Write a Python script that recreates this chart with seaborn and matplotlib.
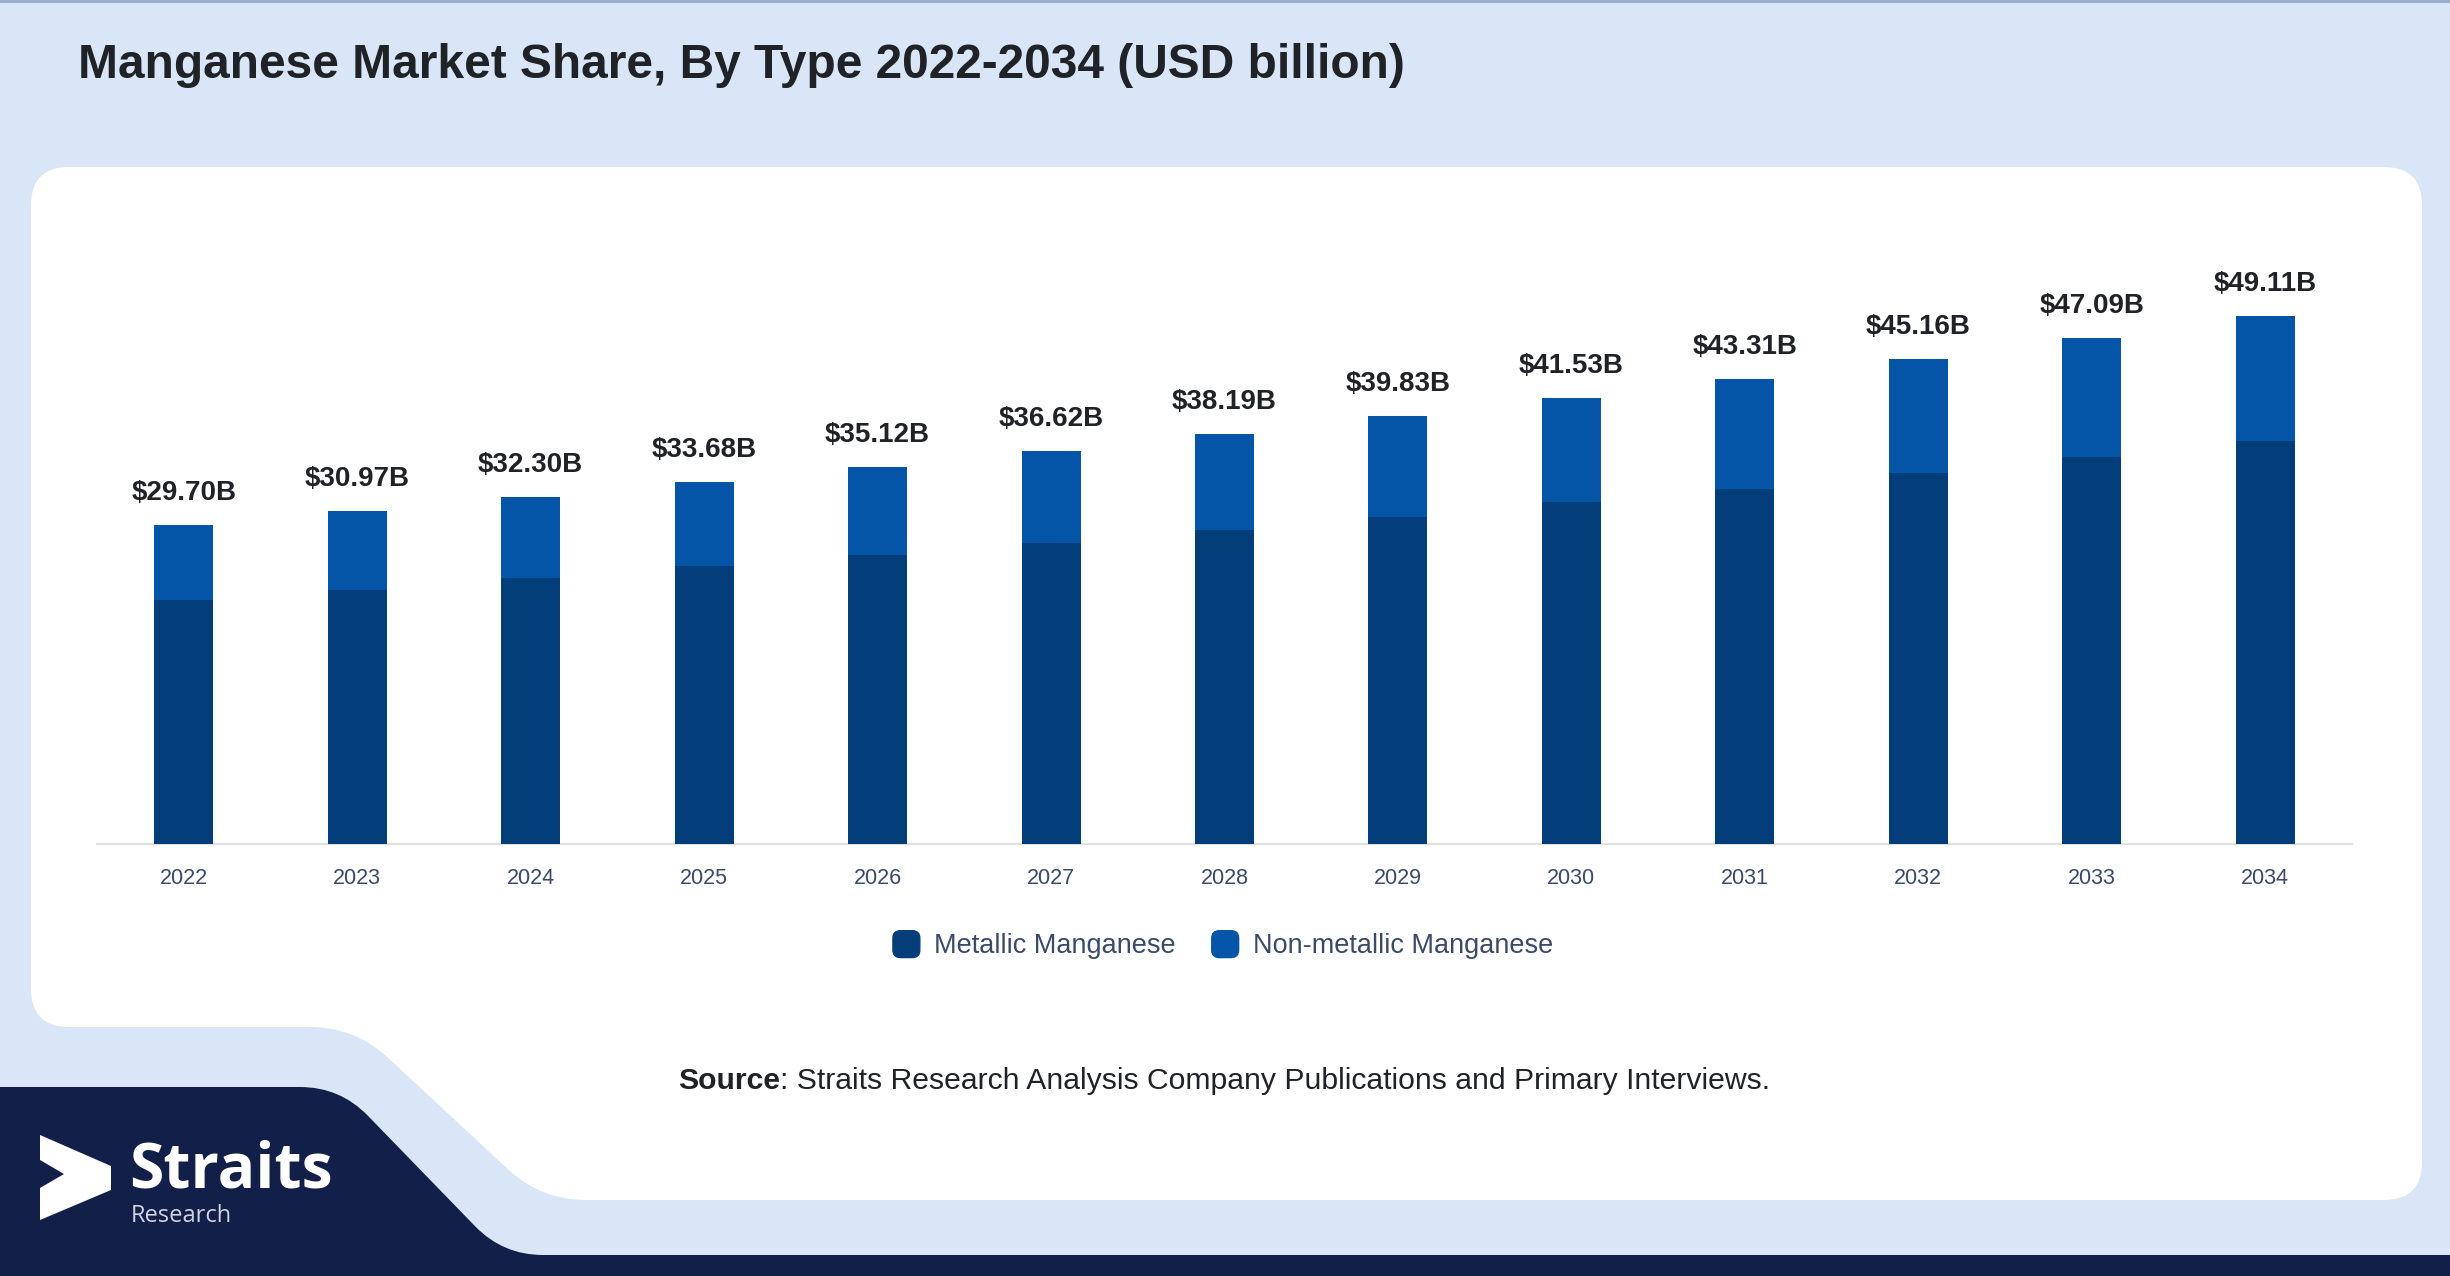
import numpy as np
import pandas as pd
import matplotlib
matplotlib.use("Agg")
import matplotlib.pyplot as plt
import seaborn as sns
from matplotlib.path import Path
from matplotlib.patches import PathPatch, FancyBboxPatch, Polygon
from matplotlib.legend_handler import HandlerPatch
import matplotlib.patches as mpatches

# ---------------- data ----------------
years = [str(y) for y in range(2022, 2035)]
metallic = [22.72, 23.68, 24.75, 25.83, 26.87, 28.01, 29.22, 30.47, 31.79, 33.02, 34.49, 35.98, 37.52]
non_metallic = [6.98, 7.29, 7.55, 7.85, 8.25, 8.61, 8.97, 9.36, 9.74, 10.29, 10.67, 11.11, 11.59]
total_labels = [29.70, 30.97, 32.30, 33.68, 35.12, 36.62, 38.19, 39.83, 41.53, 43.31, 45.16, 47.09, 49.11]
series_names = ["Metallic Manganese", "Non-metallic Manganese"]
title = "Manganese Market Share, By Type 2022-2034 (USD billion)"
source_bold = "Source"
source_rest = ": Straits Research Analysis Company Publications and Primary Interviews."

# ---------------- style ----------------
DARK = "#033D7A"
LIGHT = "#0455A8"
BG = "#D9E6F8"
NAVY = "#121F48"
TXT = "#1F2226"
TICK = "#3B4A6B"

sns.set_theme(style="white")
plt.rcParams['font.family'] = ['Liberation Sans', 'DejaVu Sans']

W, H = 2450, 1276
fig = plt.figure(figsize=(W / 100, H / 100), dpi=100)
fig.patch.set_facecolor(BG)

bg = fig.add_axes([0, 0, 1, 1])
bg.set_xlim(0, W)
bg.set_ylim(H, 0)
bg.axis('off')


def rounded_path(pts, radii):
    pts = np.asarray(pts, float)
    n = len(pts)
    verts, codes = [], []
    for i in range(n):
        p = pts[i]
        prev = pts[i - 1]
        nxt = pts[(i + 1) % n]
        r = radii[i]
        d1 = (prev - p) / np.linalg.norm(prev - p)
        d2 = (nxt - p) / np.linalg.norm(nxt - p)
        a = p + d1 * r
        b = p + d2 * r
        verts.append(a)
        codes.append(Path.MOVETO if i == 0 else Path.LINETO)
        verts += [p, b]
        codes += [Path.CURVE3, Path.CURVE3]
    verts.append(verts[0])
    codes.append(Path.CLOSEPOLY)
    return Path(verts, codes)


# top border line
bg.plot([0, W], [1, 1], color="#9AA8C8", lw=2, zorder=1)

# white panel
white_pts = [(31, 167), (2422, 167), (2422, 1200), (541, 1200), (355, 1027), (31, 1027)]
bg.add_patch(PathPatch(rounded_path(white_pts, [38, 38, 38, 45, 45, 38]),
                       facecolor="white", edgecolor="none", zorder=1))

# navy footer
navy_pts = [(-20, 1087), (340, 1087), (503, 1255), (2470, 1255), (2470, 1300), (-20, 1300)]
bg.add_patch(PathPatch(rounded_path(navy_pts, [1, 40, 40, 1, 1, 1]),
                       facecolor=NAVY, edgecolor="none", zorder=1))

# logo
arrow = [(40, 1135), (111, 1166), (111, 1190), (40, 1220), (40, 1188), (64, 1174), (40, 1160)]
bg.add_patch(Polygon(arrow, closed=True, facecolor="white", edgecolor="none", zorder=2))
bg.text(129, 1187, "Straits", color="white", fontsize=45, fontweight="bold",
        family=["Open Sans", "DejaVu Sans"], va="baseline", ha="left", zorder=3)
bg.text(131, 1222, "Research", color="#D0D5E4", fontsize=17,
        family=["Open Sans", "DejaVu Sans"], va="baseline", ha="left", zorder=3)

# title
bg.text(78, 66, title, fontsize=34.5, fontweight="bold", color=TXT,
        va="center", ha="left", zorder=3)

# ---------------- chart ----------------
ax = fig.add_axes([97 / W, 1 - 844 / H, (2352 - 97) / W, (844 - 253) / H])
ax.patch.set_alpha(0)

df = pd.DataFrame({"Year": years, "Metallic": metallic, "NonMetallic": non_metallic})
df["Total"] = df["Metallic"] + df["NonMetallic"]

sns.barplot(data=df, x="Year", y="Total", color=LIGHT, saturation=1, width=0.34,
            linewidth=0, ax=ax, zorder=2)
sns.barplot(data=df, x="Year", y="Metallic", color=DARK, saturation=1, width=0.34,
            linewidth=0, ax=ax, zorder=3)

for i, v in enumerate(total_labels):
    ax.annotate(f"${v:.2f}B", xy=(i, df["Total"][i]), xytext=(0, 23),
                textcoords="offset points", ha="center", va="center",
                fontsize=20, fontweight="bold", color=TXT)

ax.set_xlim(-0.5, 12.5)
ax.set_ylim(0, 55)
ax.set_yticks([])
ax.set_xlabel("")
ax.set_ylabel("")
for s in ["top", "left", "right"]:
    ax.spines[s].set_visible(False)
ax.spines["bottom"].set_color("#DCDCDC")
ax.spines["bottom"].set_linewidth(1.3)
ax.tick_params(axis="x", length=0, pad=17, labelsize=15.5, labelcolor=TICK)


# legend with rounded square handles
def make_round(legend, orig_handle, xdescent, ydescent, width, height, fontsize):
    s = min(width, height)
    return FancyBboxPatch((-xdescent + (width - s) / 2, -ydescent + (height - s) / 2), s, s,
                          boxstyle=f"round,pad=0,rounding_size={s * 0.28}",
                          facecolor=orig_handle.get_facecolor(), edgecolor="none")


handles = [mpatches.Patch(color=DARK), mpatches.Patch(color=LIGHT)]
leg = fig.legend(handles, series_names, loc="center", bbox_to_anchor=(1222 / W, 1 - 945 / H),
                 ncol=2, frameon=False, fontsize=19.5, handlelength=1.15, handleheight=1.15,
                 handletextpad=0.45, columnspacing=1.25,
                 handler_map={mpatches.Patch: HandlerPatch(patch_func=make_round)})
for t in leg.get_texts():
    t.set_color(TICK)

# source line
fig.canvas.draw()
r = fig.canvas.get_renderer()
fs = 21.7
tb = bg.text(0, 1081, source_bold, fontsize=fs, fontweight="bold", color=TXT, va="center", ha="left")
tr = bg.text(0, 1081, source_rest, fontsize=fs, color=TXT, va="center", ha="left")
wb = tb.get_window_extent(r).width
wr = tr.get_window_extent(r).width
x0 = 1224 - (wb + wr) / 2
tb.set_x(x0)
tr.set_x(x0 + wb)

fig.savefig("out.png", dpi=100, facecolor=fig.get_facecolor())
